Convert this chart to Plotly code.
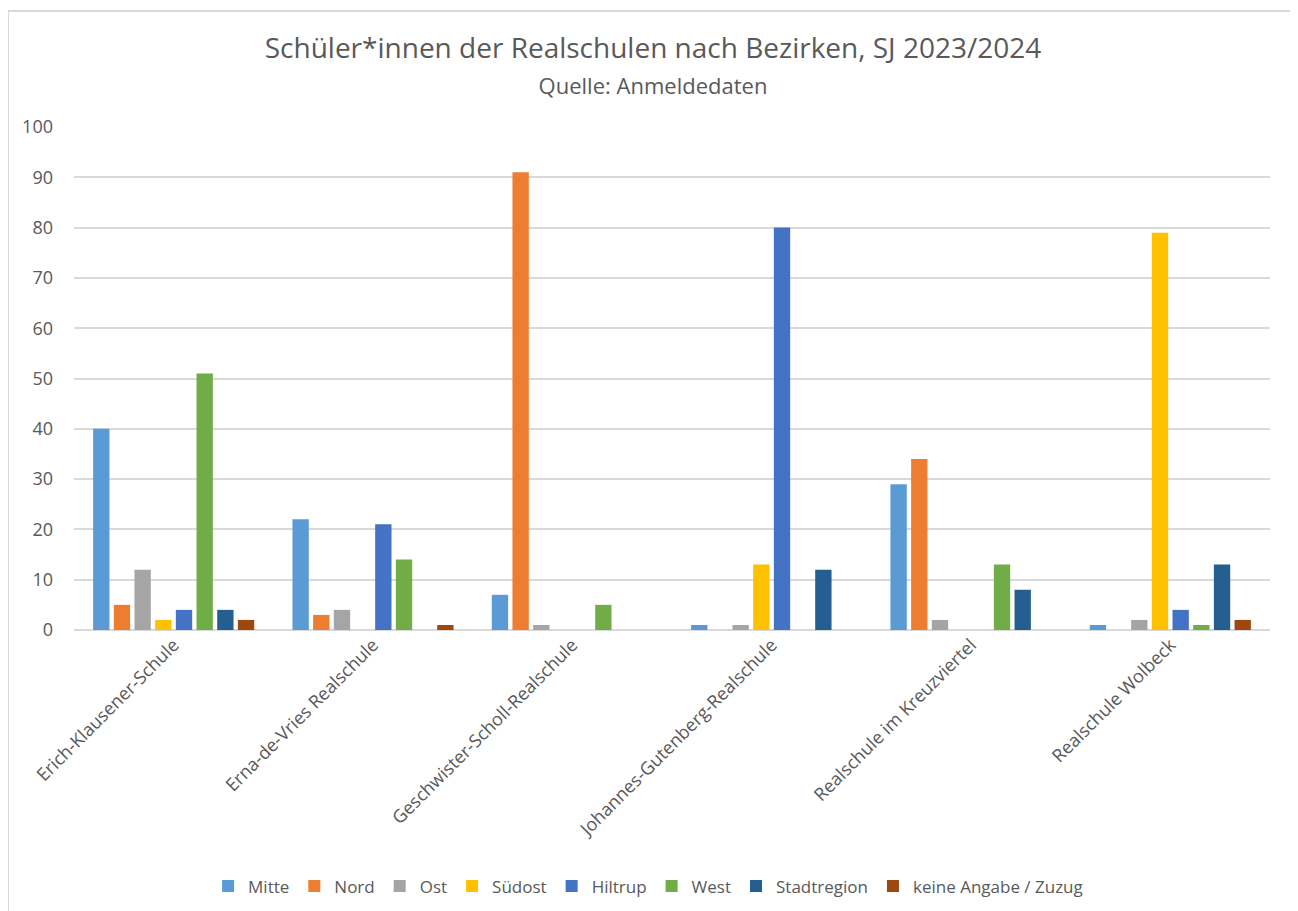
import plotly.graph_objects as go

schools = ["Erich-Klausener-Schule", "Erna-de-Vries Realschule", "Geschwister-Scholl-Realschule",
           "Johannes-Gutenberg-Realschule", "Realschule im Kreuzviertel", "Realschule Wolbeck"]
mitte = [40, 22, 7, 1, 29, 1]
nord = [5, 3, 91, 0, 34, 0]
ost = [12, 4, 1, 1, 2, 2]
suedost = [2, 0, 0, 13, 0, 79]
hiltrup = [4, 21, 0, 80, 0, 4]
west = [51, 14, 5, 0, 13, 1]
stadtregion = [4, 0, 0, 12, 8, 13]
keine = [2, 1, 0, 0, 0, 2]

series = [
    ("Mitte", mitte, "#5B9BD5"),
    ("Nord", nord, "#ED7D31"),
    ("Ost", ost, "#A5A5A5"),
    ("Südost", suedost, "#FFC000"),
    ("Hiltrup", hiltrup, "#4472C4"),
    ("West", west, "#70AD47"),
    ("Stadtregion", stadtregion, "#255E91"),
    ("keine Angabe / Zuzug", keine, "#9E480E"),
]

font = "Open Sans, Liberation Sans, sans-serif"
fig = go.Figure()
for name, vals, col in series:
    fig.add_trace(go.Bar(x=schools, y=vals, name=name, marker=dict(color=col, line=dict(width=0))))

fig.update_layout(
    width=1290, height=903,
    barmode="group", bargap=0.17, bargroupgap=0.21,
    paper_bgcolor="white", plot_bgcolor="white",
    margin=dict(l=66, r=28, t=119, b=281, autoexpand=False),
    font=dict(family=font, color="#595959", size=16),
    title=dict(
        text="Schüler*innen der Realschulen nach Bezirken, SJ 2023/2024<br><span style='font-size:22px'>Quelle: Anmeldedaten</span>",
        x=0.5, xanchor="center", y=0.945, yanchor="top",
        font=dict(size=28, color="#595959", family=font),
    ),
    xaxis=dict(tickangle=-45, showgrid=False, showline=False, ticks="", automargin=False,
               tickfont=dict(size=18, color="#595959")),
    yaxis=dict(range=[0, 100], dtick=10, showgrid=True, gridcolor="#D9D9D9", gridwidth=2,
               zeroline=True, zerolinecolor="#D9D9D9", zerolinewidth=2, automargin=False,
               showline=False, ticks="", ticklabelstandoff=20,
               tickfont=dict(size=18, color="#595959")),
    legend=dict(orientation="h", x=0.48, xanchor="center", y=-0.474, yanchor="top",
                font=dict(size=17, color="#595959"), itemwidth=30, traceorder="normal"),
    shapes=[dict(type="rect", xref="paper", yref="paper", x0=-0.0552, x1=1.0201, y0=-0.62, y1=1.2306,
                 line=dict(color="#D9D9D9", width=2))],
)
fig.write_html("out.html")
